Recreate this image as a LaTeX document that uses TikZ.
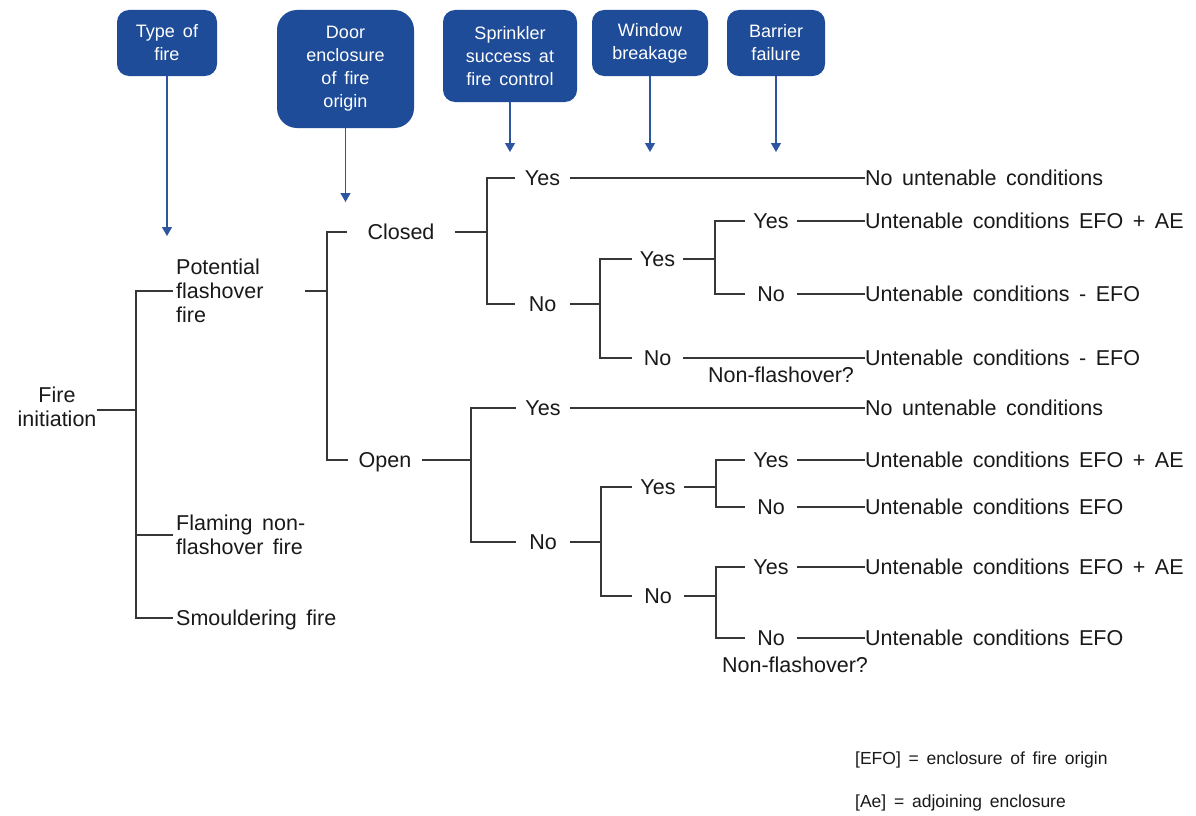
\documentclass[tikz,border=0pt]{standalone}
\usepackage{fontspec}
\setmainfont{Liberation Sans}[WordSpace=1.6]
\usetikzlibrary{arrows.meta}
\definecolor{hdrblue}{RGB}{30,76,152}
\definecolor{arrblue}{RGB}{45,85,160}
\definecolor{treegray}{RGB}{55,55,55}
\definecolor{txt}{RGB}{25,25,25}
\begin{document}
\begin{tikzpicture}[x=1pt,y=-1pt,
  hdr/.style={fill=hdrblue, rounded corners=12pt, text=white, align=center,
    font=\fontsize{18}{23}\selectfont, inner sep=0pt},
  hdrarrow/.style={draw=arrblue, line width=1.2pt, -{Triangle[length=9pt,width=10pt]}},
  br/.style={draw=treegray, line width=1.6pt},
  lbl/.style={text=txt, font=\fontsize{21.5}{24}\selectfont, inner sep=0pt,
    text height=15.5pt, text depth=0pt},
  mlbl/.style={text=txt, font=\fontsize{21.5}{24}\selectfont, inner sep=0pt, align=left},
  outc/.style={lbl, anchor=west},
  leg/.style={text=txt, font=\fontsize{17.5}{21}\selectfont, inner sep=0pt, anchor=west}
]
\useasboundingbox (0,0) rectangle (1196,816);
\fill[white] (0,0) rectangle (1196,816);

% header boxes
\node[hdr, minimum width=100pt, minimum height=66pt] (h1) at (167,43) {Type of\\fire};
\node[hdr, rounded corners=20pt, minimum width=137pt, minimum height=118pt] (h2) at (345.5,69) {Door\\enclosure\\of fire\\origin};
\node[hdr, minimum width=134pt, minimum height=92pt] (h3) at (510,56) {Sprinkler\\success at\\fire control};
\node[hdr, minimum width=116pt, minimum height=66pt] (h4) at (650,43) {Window\\breakage};
\node[hdr, minimum width=98pt, minimum height=66pt] (h5) at (776,43) {Barrier\\failure};

\coordinate (ta1) at (167,236);
\coordinate (ta2) at (345.5,202);
\coordinate (ta3) at (510,152);
\coordinate (ta4) at (650,152);
\coordinate (ta5) at (776,152);
\draw[hdrarrow] (h1.south) -- (ta1);
\draw[hdrarrow] (h2.south) -- (ta2);
\draw[hdrarrow] (h3.south) -- (ta3);
\draw[hdrarrow] (h4.south) -- (ta4);
\draw[hdrarrow] (h5.south) -- (ta5);

% type of fire
\node[mlbl, align=center] (fi) at (57,407) {Fire\\initiation};
\coordinate (j1) at (136,410);
\node[mlbl, anchor=west] (pff) at (176,291) {Potential\\flashover\\fire};
\node[mlbl, anchor=west] (fnf) at (176,535) {Flaming non-\\flashover fire};
\node[lbl, anchor=west] (smf) at (176,618) {Smouldering fire};
\draw[br] (fi.east |- j1) -- (j1);
\draw[br] ([xshift=-3pt]pff.west) -| (j1) |- ([xshift=-3pt]smf.west);
\draw[br] (j1) |- ([xshift=-3pt]fnf.west);

% door
\coordinate (pffo) at (305,291);
\coordinate (j2) at (327,291);
\draw[br] (pffo) -- (j2);
\node[lbl, minimum width=108pt] (cl) at (401,232) {Closed};
\node[lbl, minimum width=74pt] (op) at (385,460) {Open};
\draw[br] (cl.west) -| (j2) |- (op.west);

% closed branch
\coordinate (j3) at (487,232);
\draw[br] (cl.east) -- (j3);
\node[lbl, minimum width=55pt] (y1) at (542.5,178) {Yes};
\node[lbl, minimum width=55pt] (n1) at (542.5,304) {No};
\draw[br] (y1.west) -| (j3) |- (n1.west);
\node[outc] (o1) at (865,178) {No untenable conditions};
\draw[br] (y1.east) -- (o1.west);
\coordinate (j4) at (600,304);
\draw[br] (n1.east) -- (j4);
\node[lbl, minimum width=51pt] (y2) at (657.5,259) {Yes};
\node[lbl, minimum width=51pt] (n2) at (657.5,358) {No};
\draw[br] (y2.west) -| (j4) |- (n2.west);
\coordinate (j5) at (715,259);
\draw[br] (y2.east) -- (j5);
\node[lbl, minimum width=52pt] (y3) at (771,221) {Yes};
\node[lbl, minimum width=52pt] (n3) at (771,294) {No};
\draw[br] (y3.west) -| (j5) |- (n3.west);
\node[outc] (o2) at (865,221) {Untenable conditions EFO + AE};
\node[outc] (o3) at (865,294) {Untenable conditions - EFO};
\node[outc] (o4) at (865,358) {Untenable conditions - EFO};
\draw[br] (y3.east) -- (o2.west);
\draw[br] (n3.east) -- (o3.west);
\draw[br] (n2.east) -- (o4.west);
\node[lbl] (nf1) at (781,375) {Non-flashover?};

% open branch
\coordinate (j6) at (471,460);
\draw[br] (op.east) -- (j6);
\node[lbl, minimum width=54pt] (y4) at (543,408) {Yes};
\node[lbl, minimum width=54pt] (n4) at (543,542) {No};
\draw[br] (y4.west) -| (j6) |- (n4.west);
\node[outc] (o5) at (865,408) {No untenable conditions};
\draw[br] (y4.east) -- (o5.west);
\coordinate (j7) at (601,542);
\draw[br] (n4.east) -- (j7);
\node[lbl, minimum width=52pt] (y5) at (658,487) {Yes};
\node[lbl, minimum width=52pt] (n5) at (658,596) {No};
\draw[br] (y5.west) -| (j7) |- (n5.west);
\coordinate (j8) at (716,487);
\draw[br] (y5.east) -- (j8);
\node[lbl, minimum width=52pt] (y6) at (771,460) {Yes};
\node[lbl, minimum width=52pt] (n6) at (771,507) {No};
\draw[br] (y6.west) -| (j8) |- (n6.west);
\node[outc] (o6) at (865,460) {Untenable conditions EFO + AE};
\node[outc] (o7) at (865,507) {Untenable conditions EFO};
\draw[br] (y6.east) -- (o6.west);
\draw[br] (n6.east) -- (o7.west);
\coordinate (j9) at (716,596);
\draw[br] (n5.east) -- (j9);
\node[lbl, minimum width=52pt] (y7) at (771,567) {Yes};
\node[lbl, minimum width=52pt] (n7) at (771,638) {No};
\draw[br] (y7.west) -| (j9) |- (n7.west);
\node[outc] (o8) at (865,567) {Untenable conditions EFO + AE};
\node[outc] (o9) at (865,638) {Untenable conditions EFO};
\draw[br] (y7.east) -- (o8.west);
\draw[br] (n7.east) -- (o9.west);
\node[lbl] (nf2) at (795,665) {Non-flashover?};

% legend
\node[leg] (l1) at (855,760) {[EFO] = enclosure of fire origin};
\node[leg] (l2) at (855,803) {[Ae] = adjoining enclosure};
\end{tikzpicture}
\end{document}
